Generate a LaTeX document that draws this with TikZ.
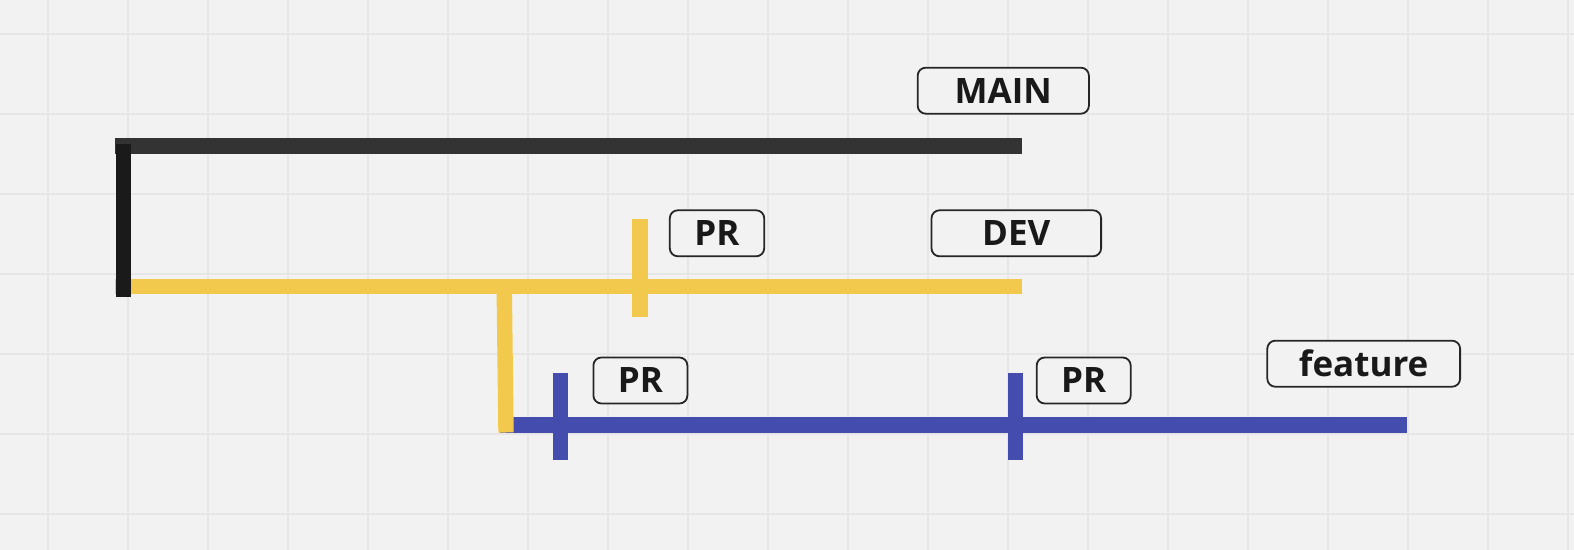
\documentclass[tikz,border=0pt]{standalone}
\usepackage{fontspec}
\setmainfont{Open Sans}
\usepackage{xcolor}
\usetikzlibrary{positioning,calc}
\definecolor{boardbg}{HTML}{F2F2F2}
\definecolor{gridln}{HTML}{E6E6E6}
\definecolor{mainclr}{HTML}{333333}
\definecolor{linkclr}{HTML}{1A1A1A}
\definecolor{devclr}{HTML}{F2C94C}
\definecolor{featclr}{HTML}{444CAD}

\begin{document}
\begin{tikzpicture}[
  x=0.5pt, y=-0.5pt,
  font=\fontsize{17.5}{20}\selectfont\bfseries,
  tag/.style={draw=black!85, line width=0.9pt, rounded corners=4pt, fill=boardbg, minimum height=23pt, inner sep=0pt, text=black!90},
  branch/.style={line width=7.7pt, line cap=butt},
  tick/.style={line width=7.7pt, line cap=butt}
]
\fill[boardbg] (0,0) rectangle (1574,550);
\useasboundingbox (0,0) rectangle (1574,550);
% board grid
\foreach \gx in {48,128,...,1568}{\draw[gridln, line width=1pt] (\gx,0) -- (\gx,550);}
\foreach \gy in {34,114,...,514}{\draw[gridln, line width=1pt] (0,\gy) -- (1574,\gy);}

% branch end points
\coordinate (main-a) at (115,146);
\coordinate (main-b) at (1021.8,146);
\coordinate (link-a) at (123.5,144);
\coordinate (link-b) at (123.5,296.7);
\coordinate (dev-a) at (115,286.7);
\coordinate (dev-b) at (1021.8,286.7);
\coordinate (drop-a) at (504.3,294);
\coordinate (drop-b) at (506,432.5);
\coordinate (feat-a) at (500,425);
\coordinate (feat-b) at (1406.7,425);

\draw[branch, mainclr] (main-a) -- (main-b);
\draw[branch, devclr] (dev-a) -- (dev-b);
\draw[branch, linkclr] (link-a) -- (link-b);
\draw[branch, featclr] (feat-a) -- (feat-b);
\draw[branch, devclr] (drop-a) -- (drop-b);

% pull request marks
\coordinate (prd-a) at (640,219);
\coordinate (prd-b) at (640,317.3);
\draw[tick, devclr] (prd-a) -- (prd-b);
\foreach \n/\px in {pra/560.5,prb/1015.3}{
  \coordinate (\n-a) at (\px,372.7);
  \coordinate (\n-b) at (\px,460);
  \draw[tick, featclr] (\n-a) -- (\n-b);
}

% labels
\node[tag, minimum width=85.6pt] (lmain) at (1003.3,90.7) {MAIN};
\node[tag, minimum width=47.2pt] (lprd) at (717,233.3) {PR};
\node[tag, minimum width=84.8pt] (ldev) at (1016.3,233.3) {DEV};
\node[tag, minimum width=47pt] (lpra) at (640.4,380.5) {PR};
\node[tag, minimum width=47pt] (lprb) at (1083.7,380.5) {PR};
\node[tag, minimum width=96.4pt] (lfeat) at (1363.7,363.7) {feature};
\end{tikzpicture}
\end{document}
